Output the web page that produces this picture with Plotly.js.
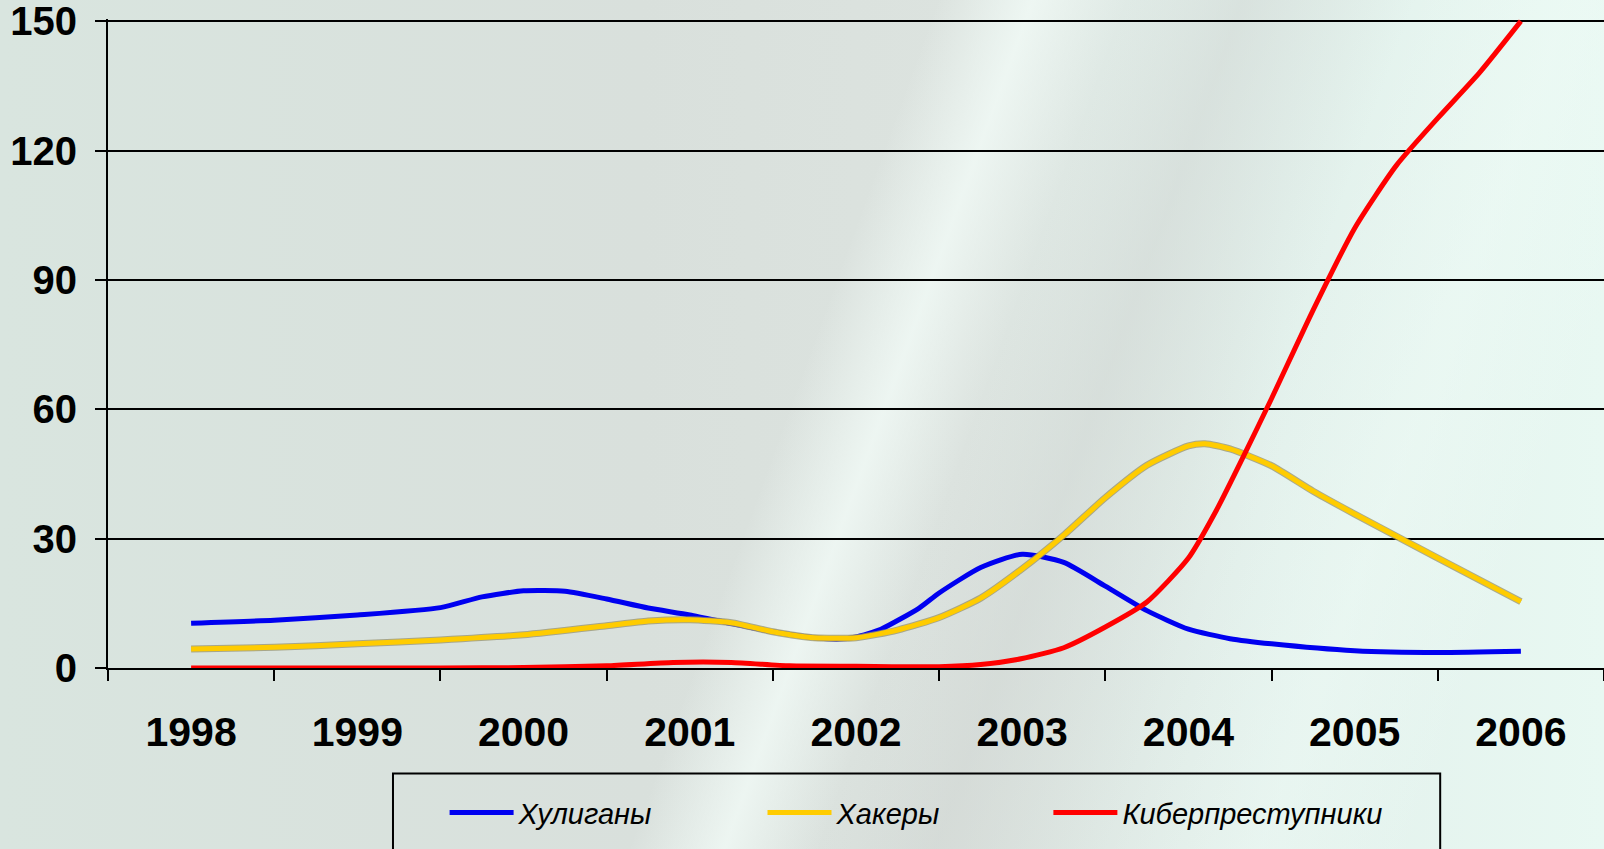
<!DOCTYPE html>
<html>
<head>
<meta charset="utf-8">
<script src="https://cdn.plot.ly/plotly-3.0.1.min.js"></script>
<style>
  html, body { margin:0; padding:0; width:1604px; height:849px; overflow:hidden; }
  body {
    background:
      linear-gradient(110deg, rgba(255,255,255,0) 49%, rgba(243,252,248,0.75) 54%, rgba(255,255,255,0) 59%, rgba(205,210,207,0.45) 65%, rgba(255,255,255,0) 74%, rgba(240,252,247,0.4) 82%, rgba(255,255,255,0) 90%),
      linear-gradient(to right, #d9e5df 0%, #d9e0dc 40%, #dce3df 60%, #e3f1ec 80%, #e8f8f2 100%);
  }
  #chart { width:1604px; height:849px; }
</style>
</head>
<body>
<div id="chart"></div>
<script>
// Category tick labels
const years = [1998, 1999, 2000, 2001, 2002, 2003, 2004, 2005, 2006];
const yearLabels = ["1998", "1999", "2000", "2001", "2002", "2003", "2004", "2005", "2006"];

// Хулиганы (hooligans)
const hoolX = [1998.0, 1998.5, 1999.0, 1999.5, 1999.75, 2000.0, 2000.25, 2000.5, 2000.75, 2001.0, 2001.25, 2001.5, 2001.75, 2001.9, 2002.0, 2002.15, 2002.38, 2002.5, 2002.75, 2003.0, 2003.25, 2003.5, 2003.75, 2004.0, 2004.25, 2004.5, 2005.0, 2005.5, 2006.0];
const hoolY = [10.4, 11.1, 12.3, 14.0, 16.5, 17.9, 17.8, 16.0, 13.9, 12.3, 10.3, 8.4, 7.0, 6.7, 7.2, 9.0, 13.9, 17.4, 23.3, 26.4, 24.5, 19.0, 13.3, 9.0, 6.8, 5.6, 4.0, 3.6, 3.9];

// Хакеры (hackers)
const hackX = [1998.0, 1998.5, 1999.0, 1999.5, 2000.0, 2000.5, 2000.75, 2001.0, 2001.25, 2001.5, 2001.75, 2002.0, 2002.25, 2002.5, 2002.75, 2003.0, 2003.25, 2003.5, 2003.75, 2004.0, 2004.1, 2004.25, 2004.5, 2004.75, 2005.0, 2005.5, 2006.0];
const hackY = [4.4, 4.8, 5.6, 6.5, 7.7, 9.8, 10.9, 11.2, 10.5, 8.4, 7.0, 7.0, 8.8, 11.7, 16.2, 23.0, 30.8, 39.5, 47.0, 51.5, 52.0, 50.8, 46.9, 41.0, 35.7, 25.5, 15.4];

// Киберпреступники (cybercriminals)
const cyberX = [1998.0, 1998.5, 1999.0, 1999.5, 2000.0, 2000.5, 2000.9, 2001.25, 2001.6, 2002.0, 2002.5, 2002.75, 2003.0, 2003.25, 2003.5, 2003.75, 2004.0, 2004.17, 2004.33, 2004.5, 2004.75, 2005.0, 2005.25, 2005.5, 2005.75, 2006.0];
const cyberY = [0, 0, 0, 0, 0.1, 0.5, 1.3, 1.3, 0.5, 0.4, 0.3, 0.8, 2.2, 4.7, 9.5, 15.3, 25.5, 36.7, 49.0, 62.5, 83.0, 102.0, 116.5, 127.5, 138.0, 150.0];

const seriesNames = ["Хулиганы", "Хакеры", "Киберпреступники"];
const yTicks = [0, 30, 60, 90, 120, 150];

const sp = {shape: 'spline', smoothing: 0.6};

const traces = [
  {x: hoolX, y: hoolY, name: seriesNames[0], mode: 'lines', cliponaxis: false, legend: 'legend',
   line: Object.assign({color: '#0000f0', width: 5}, sp)},
  {x: hackX, y: hackY, name: seriesNames[1] + '_edge', mode: 'lines', showlegend: false, hoverinfo: 'skip',
   line: Object.assign({color: 'rgba(150,145,110,0.75)', width: 7}, sp)},
  {x: hackX, y: hackY, name: seriesNames[1], mode: 'lines', legend: 'legend2',
   line: Object.assign({color: '#ffcc00', width: 5}, sp)},
  {x: cyberX, y: cyberY, name: seriesNames[2], mode: 'lines', cliponaxis: false, legend: 'legend3',
   line: Object.assign({color: '#ff0000', width: 5}, sp)}
];

const axFont = {family: 'Liberation Sans, Arial, sans-serif', size: 40, color: '#000', weight: 'bold'};
const legFont = {family: 'Liberation Sans, Arial, sans-serif', size: 29, color: '#000', style: 'italic'};

function legendAt(px) {
  return {
    orientation: 'h', x: px, xanchor: 'left', y: -0.223, yanchor: 'middle',
    bgcolor: 'rgba(0,0,0,0)', borderwidth: 0, font: legFont, itemwidth: 64
  };
}

const layout = {
  width: 1604, height: 849,
  margin: {l: 108, r: 0, t: 19, b: 181, autoexpand: false},
  paper_bgcolor: 'rgba(0,0,0,0)',
  plot_bgcolor: 'rgba(0,0,0,0)',
  showlegend: true,
  xaxis: {
    range: [1997.5, 2006.5],
    tickmode: 'array', tickvals: years, ticktext: yearLabels,
    ticks: '', ticklabelstandoff: 27,
    tickfont: Object.assign({}, axFont, {size: 41}),
    showgrid: false, zeroline: false,
    showline: true, linecolor: '#000', linewidth: 2,
    minor: {tickmode: 'linear', tick0: 1997.5, dtick: 1, ticks: 'outside', ticklen: 11, tickwidth: 2, tickcolor: '#000', showgrid: false},
    fixedrange: true
  },
  yaxis: {
    range: [0, 150.5],
    tickmode: 'array', tickvals: yTicks,
    ticks: 'outside', ticklen: 11, tickwidth: 2, tickcolor: '#000',
    ticklabelstandoff: 10, ticklabeloverflow: 'allow',
    tickfont: axFont,
    showgrid: true, gridcolor: '#000', gridwidth: 2,
    zeroline: false,
    showline: true, linecolor: '#000', linewidth: 2,
    fixedrange: true
  },
  legend: legendAt(0.225),
  legend2: legendAt(0.4375),
  legend3: legendAt(0.6286),
  shapes: [
    {type: 'rect', xref: 'paper', yref: 'paper', x0: 0.1905, x1: 0.8905, y0: -0.1625, y1: -0.30,
     line: {color: '#000', width: 2}, fillcolor: 'rgba(0,0,0,0)', layer: 'above'}
  ]
};

Plotly.newPlot('chart', traces, layout, {displayModeBar: false, staticPlot: true});
</script>
</body>
</html>
